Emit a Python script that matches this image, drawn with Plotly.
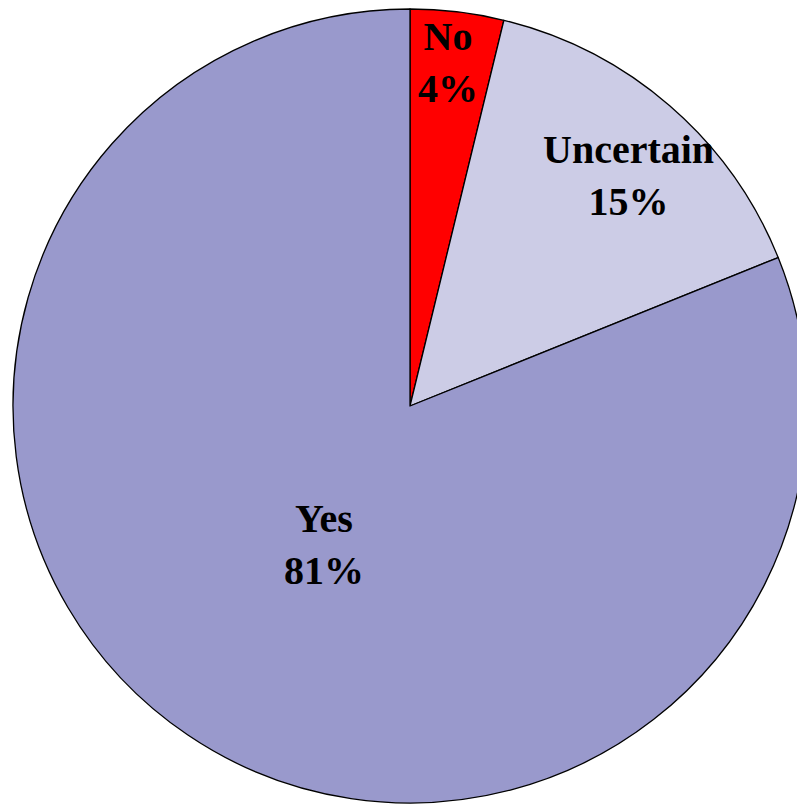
import math
import plotly.graph_objects as go

# ---- data ----
categories = ["No", "Uncertain", "Yes"]
values = [3.8, 15.1, 81.1]
percent_labels = ["4%", "15%", "81%"]

# ---- style ----
colors = ["#FF0000", "#CCCCE6", "#9999CC"]
label_radius = [0.87, 0.80, 0.41]      # fraction of pie radius for each label
label_angle_shift = [-0.5, 2.6, -2.0]  # degrees, nudge from slice mid-angle

W, H = 820, 804
cx, cy, R = 410, 406, 397

fig = go.Figure(go.Pie(
    labels=categories,
    values=values,
    sort=False,
    direction="clockwise",
    rotation=0,
    marker=dict(colors=colors, line=dict(color="black", width=1.3)),
    textinfo="none",
    hoverinfo="label+percent",
    showlegend=False,
    domain=dict(x=[(cx - R) / W, (cx + R) / W], y=[1 - (cy + R) / H, 1 - (cy - R) / H]),
))

total = sum(values)
cum = 0.0
annotations = []
for cat, v, pl, rf, da in zip(categories, values, percent_labels, label_radius, label_angle_shift):
    mid = (cum + v / 2) / total * 2 * math.pi + math.radians(da)
    cum += v
    px = cx + rf * R * math.sin(mid)
    py = cy - rf * R * math.cos(mid)
    annotations.append(dict(
        x=px / W, y=1 - py / H, xref="paper", yref="paper",
        text=f"<b>{cat}<br>{pl}</b>", showarrow=False,
        xanchor="center", yanchor="middle",
        font=dict(family="Liberation Serif, Times New Roman, serif", size=40, color="black"),
    ))

fig.update_layout(
    width=W, height=H,
    margin=dict(l=0, r=0, t=0, b=0),
    paper_bgcolor="white",
    plot_bgcolor="white",
    annotations=annotations,
)

fig.write_html(
    "out.html",
    post_script="document.documentElement.style.overflow='hidden';document.body.style.overflow='hidden';document.body.style.margin='0';",
)
